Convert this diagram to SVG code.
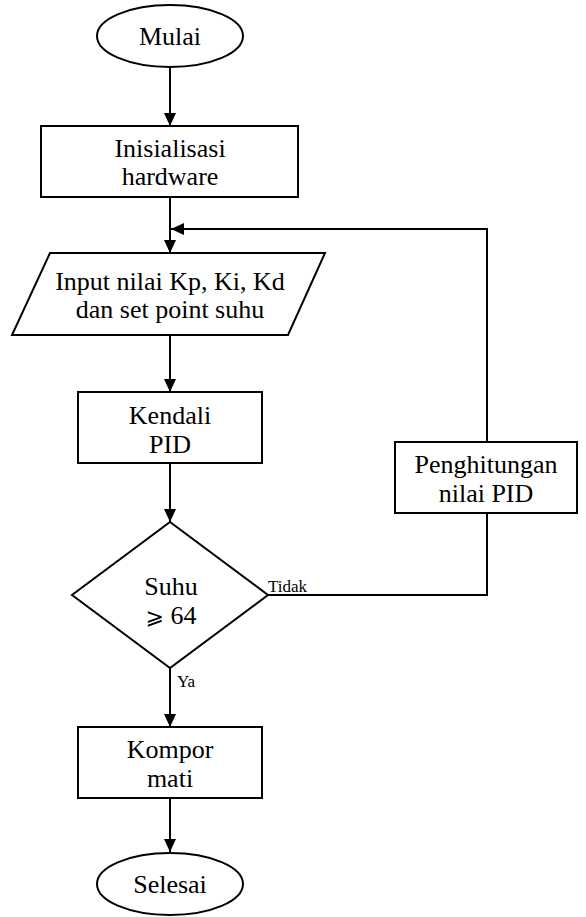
<svg xmlns="http://www.w3.org/2000/svg" width="586" height="917" viewBox="0 0 586 917">
  <style>
    .shape { fill: #ffffff; stroke: #000000; stroke-width: 2; }
    .conn { fill: none; stroke: #000000; stroke-width: 2; }
    .t { font-family: "Liberation Serif", "Times New Roman", serif; font-size: 26px; fill: #000000; text-anchor: middle; }
    .s { font-family: "Liberation Serif", "Times New Roman", serif; font-size: 17px; fill: #000000; }
  </style>
  <defs>
    <marker id="arrow" viewBox="0 0 13 12" refX="13" refY="6" markerWidth="13" markerHeight="12" markerUnits="userSpaceOnUse" orient="auto">
      <path d="M0,0 L13,6 L0,12 Z" fill="#000000"/>
    </marker>
  </defs>
  <rect width="586" height="917" fill="#ffffff"/>

  <g id="connectors">
    <line class="conn" x1="170" y1="67" x2="170" y2="126" marker-end="url(#arrow)"/>
    <line class="conn" x1="170" y1="197" x2="170" y2="253" marker-end="url(#arrow)"/>
    <polyline class="conn" points="487,442 487,229 171,229" marker-end="url(#arrow)"/>
    <line class="conn" x1="170" y1="335" x2="170" y2="392" marker-end="url(#arrow)"/>
    <line class="conn" x1="170" y1="463" x2="170" y2="522" marker-end="url(#arrow)"/>
    <polyline class="conn" points="268,595 487,595 487,513"/>
    <line class="conn" x1="170" y1="668" x2="170" y2="727" marker-end="url(#arrow)"/>
    <line class="conn" x1="170" y1="798" x2="170" y2="852" marker-end="url(#arrow)"/>
    <text class="s" x="268" y="592">Tidak</text>
    <text class="s" x="177" y="687">Ya</text>
  </g>

  <g id="mulai">
    <ellipse class="shape" cx="170" cy="36" rx="73" ry="31"/>
    <text class="t" x="170" y="45">Mulai</text>
  </g>

  <g id="inisialisasi">
    <rect class="shape" x="41" y="126" width="257" height="71"/>
    <text class="t" x="170" y="157">Inisialisasi</text>
    <text class="t" x="170" y="185">hardware</text>
  </g>

  <g id="input">
    <polygon class="shape" points="50,253 325,253 288,335 12,335"/>
    <text class="t" x="170" y="290">Input nilai Kp, Ki, Kd</text>
    <text class="t" x="170" y="318">dan set point suhu</text>
  </g>

  <g id="kendali">
    <rect class="shape" x="78" y="392" width="184" height="71"/>
    <text class="t" x="170" y="424">Kendali</text>
    <text class="t" x="170" y="453">PID</text>
  </g>

  <g id="keputusan">
    <polygon class="shape" points="170,522 268,595 170,668 72,595"/>
    <text class="t" x="171" y="595">Suhu</text>
    <text class="t" x="171" y="624"><tspan font-family="DejaVu Sans, sans-serif" font-size="22">⩾</tspan> 64</text>
  </g>

  <g id="penghitungan">
    <rect class="shape" x="395" y="442" width="182" height="71"/>
    <text class="t" x="486" y="473">Penghitungan</text>
    <text class="t" x="486" y="502">nilai PID</text>
  </g>

  <g id="kompor">
    <rect class="shape" x="78" y="727" width="184" height="71"/>
    <text class="t" x="170" y="758">Kompor</text>
    <text class="t" x="170" y="787">mati</text>
  </g>

  <g id="selesai">
    <ellipse class="shape" cx="170" cy="884" rx="73" ry="31"/>
    <text class="t" x="170" y="893">Selesai</text>
  </g>
</svg>
